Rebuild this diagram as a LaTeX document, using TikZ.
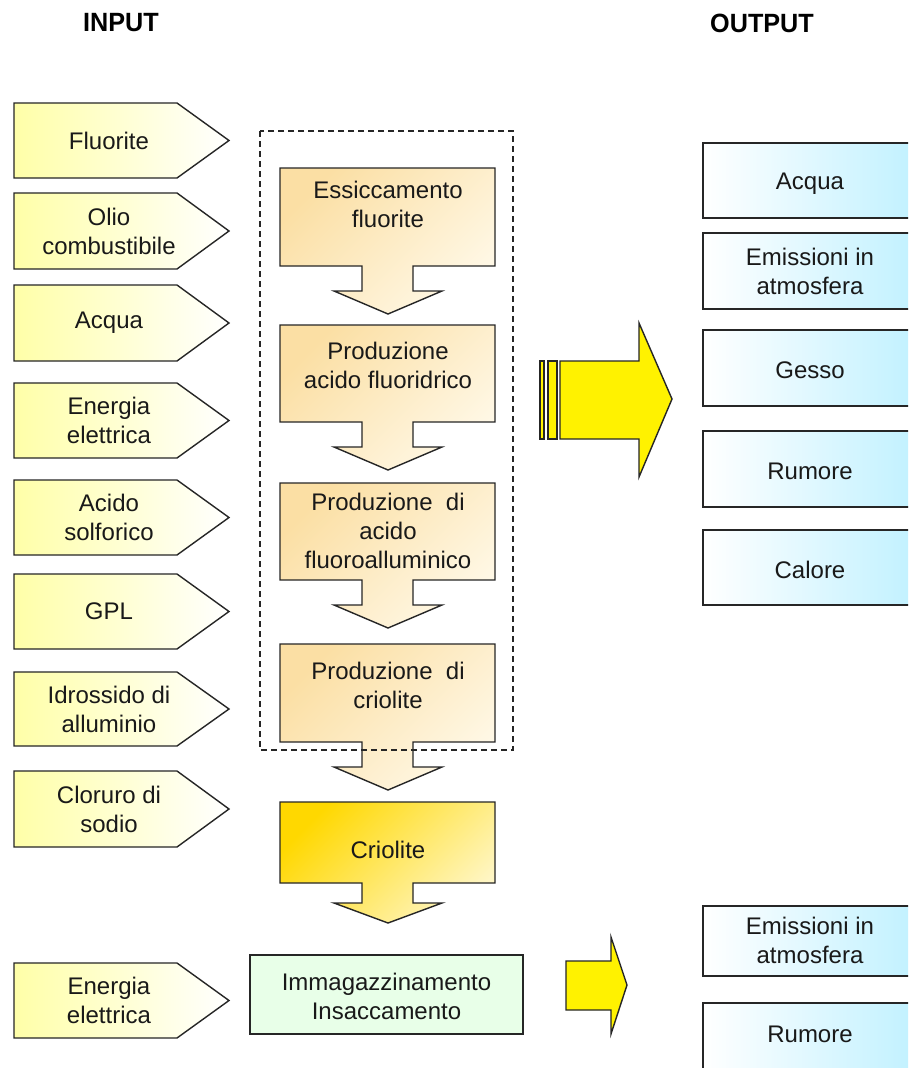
\documentclass[tikz,border=0pt]{standalone}
\usepackage{fontspec}
\setmainfont{Liberation Sans}
\begin{document}
\begin{tikzpicture}[x=1pt,y=-1pt,
  line join=miter,
  outl/.style={draw=black!85, line width=1.4pt},
  intag/.style={outl, left color=inyel, right color=white},
  procbox/.style={outl, top color=procA, bottom color=procB, shading angle=45},
  criobox/.style={outl, top color=crioA, bottom color=crioB, shading angle=45},
  storebox/.style={outl, fill=storeg},
  outbox/.style={outl, left color=white, right color=outcy},
  yarrow/.style={outl, fill=yellow},
  lbl/.style={font=\fontsize{24}{29}\selectfont, align=center, inner sep=0pt, text=black!90},
  head/.style={font=\bfseries\fontsize{24}{28}\selectfont, inner sep=0pt, xscale=1.05, yscale=1.1}
]
\definecolor{inyel}{HTML}{FFFFA8}
\definecolor{procA}{HTML}{FBDFA4}
\definecolor{procB}{HTML}{FFF8E6}
\definecolor{crioA}{HTML}{FFD800}
\definecolor{crioB}{HTML}{FFF6C4}
\definecolor{storeg}{HTML}{E8FFE8}
\definecolor{outcy}{HTML}{BDF0FF}
\clip (0,0) rectangle (908,1068);
\fill[white] (0,0) rectangle (908,1068);

% column headings
\node[head] (hin) at (121,23) {INPUT};
\node[head] (hout) at (762,23) {OUTPUT};

% input tags: top, bottom, name, label
\foreach \t/\b/\nm/\txt in {103/178/i1/Fluorite,
                             193/269/i2/{Olio\\combustibile},
                             285/361/i3/Acqua,
                             383/458/i4/{Energia\\elettrica},
                             480/555/i5/{Acido\\solforico},
                             574/649/i6/GPL,
                             672/746/i7/{Idrossido di\\alluminio},
                             771/847/i8/{Cloruro di\\sodio},
                             963/1038/i9/{Energia\\elettrica}}{
  \path[intag] (14,\t) -- (177,\t) -- (229,{(\t+\b)/2}) -- (177,\b) -- (14,\b) -- cycle;
  \node[lbl] (\nm) at (109,{(\t+\b)/2}) {\txt};
}

% process steps with their down arrows
\foreach \t/\b/\nm/\ty/\txt in {168/266/p1/204/{Essiccamento\\fluorite},
                                 325/422/p2/365/{Produzione\\acido fluoridrico},
                                 483/580/p3/531/{Produzione\ \ di\\acido\\fluoroalluminico},
                                 644/742/p4/685/{Produzione\ \ di\\criolite}}{
  \path[procbox] (280,\t) -- (495,\t) -- (495,\b) -- (413,\b) -- (413,\b+25)
     -- (442,\b+25) -- (388,\b+48) -- (334,\b+25) -- (362,\b+25) -- (362,\b)
     -- (280,\b) -- cycle;
  \node[lbl] (\nm) at (388,\ty) {\txt};
}

% product
\path[criobox] (280,802) -- (495,802) -- (495,883) -- (413,883) -- (413,903)
   -- (442,903) -- (388,923) -- (334,903) -- (362,903) -- (362,883)
   -- (280,883) -- cycle;
\node[lbl] (crio) at (388,850) {Criolite};

% storage
\path[storebox] (250,955) rectangle (523,1034);
\node[lbl] (store) at (386.5,996) {Immagazzinamento\\Insaccamento};

% system boundary
\draw[black!85, line width=1.3pt, dash pattern=on 6pt off 4pt] (260,131) rectangle (513,750);

% big output arrow
\path[yarrow] (540,361) rectangle (544,439);
\path[yarrow] (548,361) rectangle (557,439);
\path[yarrow] (560,361) -- (639,361) -- (639,323) -- (672,399) -- (639,477)
   -- (639,439) -- (560,439) -- cycle;

% small output arrow
\path[yarrow] (566,961) -- (611,961) -- (611,937) -- (627,985) -- (611,1034)
   -- (611,1010) -- (566,1010) -- cycle;

% outputs (boxes run past the right edge)
\foreach \t/\b in {143/218, 233/309, 330/406, 431/507, 530/605, 906/976, 1003/1080}{
  \path[outbox] (703,\t) rectangle (930,\b);
}
\node[lbl] (o1t) at (810,184) {Acqua};
\node[lbl] (o2t) at (810,271) {Emissioni in\\atmosfera};
\node[lbl] (o3t) at (810,370) {Gesso};
\node[lbl] (o4t) at (810,471) {Rumore};
\node[lbl] (o5t) at (810,570) {Calore};
\node[lbl] (o6t) at (810,940) {Emissioni in\\atmosfera};
\node[lbl] (o7t) at (810,1034) {Rumore};
\end{tikzpicture}
\end{document}
